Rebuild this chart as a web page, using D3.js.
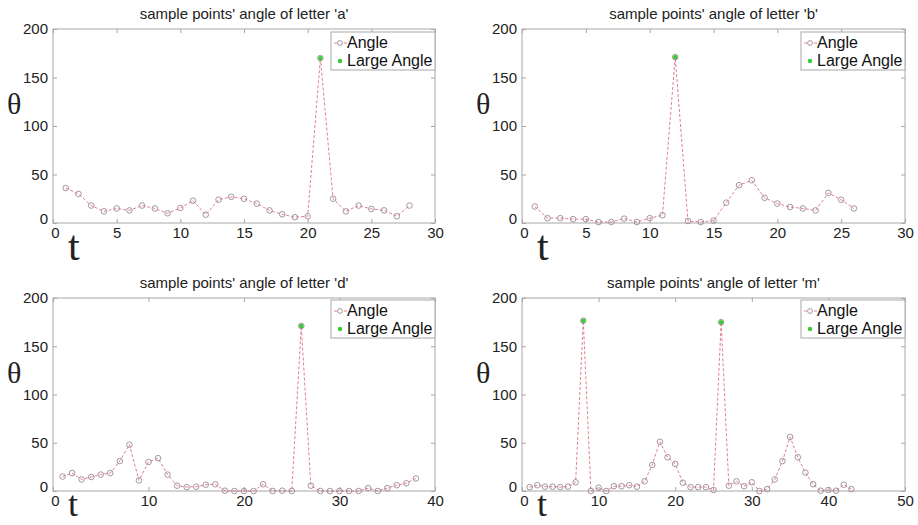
<!DOCTYPE html>
<html>
<head>
<meta charset="utf-8">
<script src="https://cdn.jsdelivr.net/npm/d3@7"></script>
<style>
  body { margin: 0; background: #fff; }
  svg { display: block; }
  .tick text { font-family: "Liberation Sans", Arial, sans-serif; font-size: 15px; fill: #222; }
</style>
</head>
<body>
<div id="vis"></div>
<script>
var W = 918, H = 525;

// values
var letters = ["a", "b", "d", "m"];
var angleA = [36, 30, 18, 12, 15, 13, 18, 15, 10, 15.5, 23, 8.6, 24, 27, 25, 20, 13, 9, 6, 7, 170, 25, 12, 18, 14.5, 13, 7, 18];
var angleB = [17, 5, 5, 4, 4, 1, 1, 4.5, 1, 5, 8, 171, 2, 1, 2.5, 21, 39, 44, 26, 20, 16.5, 15, 13, 31, 24, 15];
var angleD = [15, 18.6, 12, 14.5, 17, 18.6, 31, 48, 11, 30, 34, 17, 5.5, 4, 4.5, 6.5, 7, 0.3, 0, 0, 0, 7, 0, 0.3, 0, 171,
              5.5, 0, 0, 0, 0, 0, 3, 0, 3, 6, 8, 13];
var angleM = [4, 6, 4.5, 4.5, 4, 4.5, 9, 176.5, 0, 3.5, 0, 5, 5, 6, 4.5, 10, 27, 51, 35, 28, 8.6, 4, 4, 4, 1, 175,
              5.5, 10, 5, 9, 0, 2, 12, 31, 56, 35, 19, 7, 0.3, 1, 0.3, 6.5, 2];
var largeIdx = [[21], [12], [26], [8, 26]];
var xMax = [30, 30, 40, 50];
var xTicks = [[0, 5, 10, 15, 20, 25, 30], [0, 5, 10, 15, 20, 25, 30], [0, 10, 20, 30, 40], [0, 10, 20, 30, 40, 50]];
var yTicks = [0, 50, 100, 150, 200];
var series = [angleA, angleB, angleD, angleM];

var frames = [
  {left: 53, top: 29, right: 435, bottom: 223, tY: 37, tSize: 42},
  {left: 522, top: 29, right: 905, bottom: 223, tY: 37, tSize: 42},
  {left: 53, top: 298, right: 435, bottom: 491, tY: 25, tSize: 36},
  {left: 522, top: 298, right: 905, bottom: 491, tY: 25, tSize: 36}
];

var lineColor = "#e0707f", markColor = "#9c8a92", bigColor = "#33cc33", frameColor = "#a8a8a8";

var svg = d3.select("#vis").append("svg")
    .attr("width", W)
    .attr("height", H);

series.forEach(function(vals, k) {
  var f = frames[k];
  var w = f.right - f.left, h = f.bottom - f.top;
  var g = svg.append("g").attr("transform", "translate(" + f.left + "," + f.top + ")");

  var x = d3.scaleLinear().domain([0, xMax[k]]).range([0, w]);
  var y = d3.scaleLinear().domain([0, 200]).range([h, 0]);
  var xt = xTicks[k];

  var pts = vals.map(function(v, i) { return {t: i + 1, v: v}; });

  // axes with inward ticks like matlab
  var ax = g.append("g").attr("transform", "translate(0," + h + ")")
      .call(d3.axisBottom(x).tickValues(xt).tickSizeInner(-4).tickSizeOuter(0).tickPadding(4));
  var ay = g.append("g")
      .call(d3.axisLeft(y).tickValues(yTicks).tickSizeInner(-4).tickSizeOuter(0).tickPadding(5));
  g.append("g").call(d3.axisTop(x).tickValues(xt).tickSizeInner(-4).tickSizeOuter(0).tickFormat(""));
  g.append("g").attr("transform", "translate(" + w + ",0)")
      .call(d3.axisRight(y).tickValues(yTicks).tickSizeInner(-4).tickSizeOuter(0).tickFormat(""));
  g.selectAll(".domain").remove();
  g.selectAll(".tick line").attr("stroke", frameColor);
  ax.selectAll(".tick text").attr("dy", "0.75em").attr("dx", function(d) { return d == 0 ? 2 : 0; });
  ay.selectAll(".tick text").attr("dy", function(d) { return d == 0 ? "0.05em" : "0.32em"; });

  g.append("rect")
    .attr("width", w).attr("height", h)
    .attr("fill", "none")
    .attr("stroke", frameColor)
    .attr("stroke-width", 1);

  var line = d3.line().x(function(d) { return x(d.t); }).y(function(d) { return y(d.v); });
  g.append("path")
    .datum(pts)
    .attr("d", line)
    .attr("fill", "none")
    .attr("stroke", lineColor)
    .attr("stroke-width", 0.9)
    .attr("stroke-dasharray", "3,2");

  g.selectAll(".pt")
    .data(pts)
    .enter().append("circle")
    .attr("cx", function(d) { return x(d.t); })
    .attr("cy", function(d) { return y(d.v); })
    .attr("r", 2.8)
    .attr("fill", "none")
    .attr("stroke", markColor)
    .attr("stroke-width", 0.9);

  g.selectAll(".big")
    .data(largeIdx[k])
    .enter().append("circle")
    .attr("cx", function(d) { return x(d); })
    .attr("cy", function(d) { return y(vals[d - 1]); })
    .attr("r", 2.2)
    .attr("fill", bigColor);

  // title
  g.append("text")
    .attr("x", w / 2)
    .attr("y", -10)
    .attr("text-anchor", "middle")
    .style("font-family", "Liberation Sans, Arial, sans-serif")
    .style("font-size", "15px")
    .style("fill", "#222")
    .text("sample points' angle of letter '" + letters[k] + "'");

  // axis symbols
  g.append("text")
    .attr("x", -46)
    .attr("y", 85)
    .style("font-family", "Liberation Serif, Times New Roman, serif")
    .style("font-size", "30px")
    .style("fill", "#222")
    .text("θ");
  g.append("text")
    .attr("x", 15)
    .attr("y", h + f.tY)
    .style("font-family", "Liberation Serif, Times New Roman, serif")
    .style("font-size", f.tSize + "px")
    .style("fill", "#222")
    .text("t");

  // legend
  var lg = g.append("g").attr("transform", "translate(" + (w - 104) + "," + (k < 2 ? 3 : 2) + ")");
  lg.append("rect")
    .attr("width", 104).attr("height", 38)
    .attr("fill", "#fff")
    .attr("stroke", frameColor);
  lg.append("line")
    .attr("x1", 3).attr("x2", 16).attr("y1", 11).attr("y2", 11)
    .attr("stroke", lineColor).attr("stroke-width", 0.9).attr("stroke-dasharray", "3,2");
  lg.append("circle")
    .attr("cx", 9).attr("cy", 11).attr("r", 2.4)
    .attr("fill", "#fff").attr("stroke", markColor).attr("stroke-width", 0.9);
  lg.append("circle")
    .attr("cx", 9).attr("cy", 29).attr("r", 2.2)
    .attr("fill", bigColor);
  lg.selectAll(".lt")
    .data(["Angle", "Large Angle"])
    .enter().append("text")
    .attr("x", 16)
    .attr("y", function(d, i) { return 16 + i * 18; })
    .style("font-family", "Liberation Sans, Arial, sans-serif")
    .style("font-size", "16px")
    .style("fill", "#111")
    .text(function(d) { return d; });
});
</script>
</body>
</html>
